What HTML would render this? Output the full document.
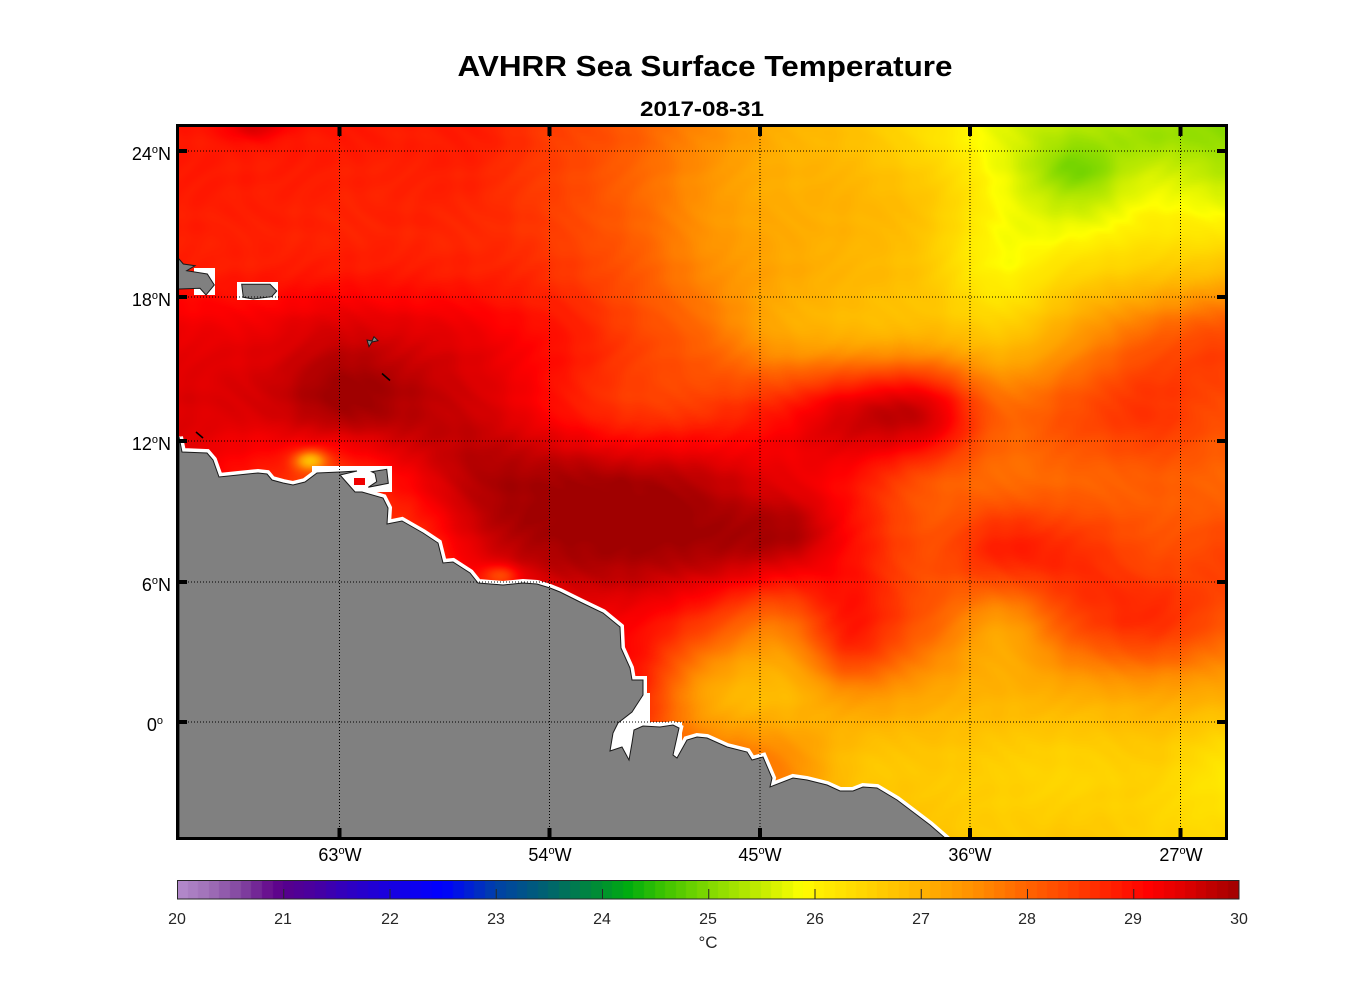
<!DOCTYPE html>
<html><head><meta charset="utf-8"><style>
html,body{margin:0;padding:0;background:#fff;}
body{width:1356px;height:1000px;position:relative;overflow:hidden;font-family:"Liberation Sans",Arial,sans-serif;}
#map{position:absolute;left:179px;top:127px;width:1046px;height:710px;background:linear-gradient(to right,#e00000,#ff2000 35%,#ff8000 55%,#ffb800 75%,#ffc800);}
#cb{position:absolute;left:178px;top:881px;width:1061px;height:18px;background:linear-gradient(to right,#b48cc8,#58008c 10%,#0000ff 25%,#009030 40%,#80d800 50%,#ffff00 59%,#ffb400 70%,#ff6400 80%,#ff0000 92%,#a00000);}
svg{position:absolute;left:0;top:0;}
</style></head><body>
<canvas id="map" width="1046" height="710"></canvas>
<canvas id="cb" width="1061" height="18"></canvas>
<svg width="1356" height="1000" viewBox="0 0 1356 1000" font-family="Liberation Sans, Arial, sans-serif">
<defs><clipPath id="c"><rect x="179" y="127" width="1046" height="710"/></clipPath></defs>
<g clip-path="url(#c)">
  <rect x="312" y="466" width="80" height="26" fill="#fff"/>
  <rect x="354" y="478" width="11" height="7" fill="#f00000"/>
  <rect x="194" y="268" width="21" height="27" fill="#fff"/>
  <rect x="237" y="282" width="41" height="18" fill="#fff"/>
  <polygon points="618,723 643,693 650,693 650,722 682,722 682,762 606,762" fill="#fff"/>
  <path d="M179,437 L182,452 L207,453 L213,460 L219,477 L258,473 L267,474 L272,480 L283,483 L293,485 L305,482 L317,473 L340,472 L357,471 L340,475 L355,492 L362,492 L383,498 L388,508 L387,524 L402,521 L423,533 L438,543 L443,563 L453,562 L470,573 L478,583 L503,585 L523,583 L537,584 L550,588 L560,592 L580,602 L603,613 L620,627 L621,648 L630,668 L632,680 L643,680 L643,695 L632,712 L618,723 L613,733 L610,751 L622,747 L629,760 L632,743 L634,730 L643,726 L660,727 L673,725 L679,728 L673,755 L677,758 L687,740 L697,737 L707,738 L727,747 L747,752 L752,760 L763,757 L772,778 L770,787 L793,778 L807,780 L827,785 L840,791 L853,791 L863,787 L877,788 L897,800 L930,825 L945,838 L179,838 Z" fill="none" stroke="#fff" stroke-width="8" stroke-linejoin="miter"/>
  <path d="M179,437 L182,452 L207,453 L213,460 L219,477 L258,473 L267,474 L272,480 L283,483 L293,485 L305,482 L317,473 L340,472 L357,471 L340,475 L355,492 L362,492 L383,498 L388,508 L387,524 L402,521 L423,533 L438,543 L443,563 L453,562 L470,573 L478,583 L503,585 L523,583 L537,584 L550,588 L560,592 L580,602 L603,613 L620,627 L621,648 L630,668 L632,680 L643,680 L643,695 L632,712 L618,723 L613,733 L610,751 L622,747 L629,760 L632,743 L634,730 L643,726 L660,727 L673,725 L679,728 L673,755 L677,758 L687,740 L697,737 L707,738 L727,747 L747,752 L752,760 L763,757 L772,778 L770,787 L793,778 L807,780 L827,785 L840,791 L853,791 L863,787 L877,788 L897,800 L930,825 L945,838 L179,838 Z" fill="#808080" stroke="#1a1a1a" stroke-width="1"/>
  <polygon points="371.7,471.7 386.7,469.3 388.3,483.3 368.3,487.3 376.7,481.7 375,473.3" fill="#808080" stroke="#1a1a1a" stroke-width="1"/>
  <polygon points="177,256.7 183.3,264 195,265.7 186.7,270.7 207.3,274 214.3,285 206,295 200,288.3 178.3,289 177,289" fill="#808080" stroke="#1a1a1a" stroke-width="1"/>
  <polygon points="241.7,284.3 270,284.3 276.7,291 271.7,296.7 253.3,299 243.3,297.3" fill="#808080" stroke="#1a1a1a" stroke-width="1"/>
  <polygon points="367,340 372,341 374,336.7 378,340.7 372,342 369,346.7" fill="#808080" stroke="#1a1a1a" stroke-width="1"/>
  <line x1="382" y1="373.5" x2="390" y2="380.5" stroke="#000" stroke-width="1.6"/>
  <line x1="196" y1="432" x2="203" y2="438" stroke="#000" stroke-width="1.6"/>
  <g stroke="#000" stroke-width="1" stroke-dasharray="1,2" fill="none">
    <line x1="339.5" y1="127" x2="339.5" y2="837"/>
    <line x1="549.5" y1="127" x2="549.5" y2="837"/>
    <line x1="760" y1="127" x2="760" y2="837"/>
    <line x1="970" y1="127" x2="970" y2="837"/>
    <line x1="1180.5" y1="127" x2="1180.5" y2="837"/>
    <line x1="179" y1="151" x2="1225" y2="151"/>
    <line x1="179" y1="297" x2="1225" y2="297"/>
    <line x1="179" y1="441" x2="1225" y2="441"/>
    <line x1="179" y1="582" x2="1225" y2="582"/>
    <line x1="179" y1="722" x2="1225" y2="722"/>
  </g>
</g>
<rect x="177.5" y="125.5" width="1049" height="713" fill="none" stroke="#000" stroke-width="3"/>
<g fill="#000">
  <rect x="337.5" y="127" width="4" height="9"/><rect x="547.5" y="127" width="4" height="9"/><rect x="758" y="127" width="4" height="9"/><rect x="968" y="127" width="4" height="9"/><rect x="1178.5" y="127" width="4" height="9"/>
  <rect x="337.5" y="828" width="4" height="9"/><rect x="547.5" y="828" width="4" height="9"/><rect x="758" y="828" width="4" height="9"/><rect x="968" y="828" width="4" height="9"/><rect x="1178.5" y="828" width="4" height="9"/>
  <rect x="179" y="149" width="8" height="4"/><rect x="179" y="295" width="8" height="4"/><rect x="179" y="439" width="8" height="4"/><rect x="179" y="580" width="8" height="4"/><rect x="179" y="720" width="8" height="4"/>
  <rect x="1217" y="149" width="8" height="4"/><rect x="1217" y="295" width="8" height="4"/><rect x="1217" y="439" width="8" height="4"/><rect x="1217" y="580" width="8" height="4"/><rect x="1217" y="720" width="8" height="4"/>
</g>
<text x="705" y="76" font-size="29" font-weight="bold" text-anchor="middle" textLength="495" lengthAdjust="spacingAndGlyphs" fill="#000">AVHRR Sea Surface Temperature</text>
<text x="702" y="116" font-size="21" font-weight="bold" text-anchor="middle" textLength="124" lengthAdjust="spacingAndGlyphs" fill="#000">2017-08-31</text>
<g font-size="18" fill="#000" text-anchor="end">
  <text x="171" y="160">24<tspan font-size="11" dy="-7">o</tspan><tspan dy="7">N</tspan></text>
  <text x="171" y="306">18<tspan font-size="11" dy="-7">o</tspan><tspan dy="7">N</tspan></text>
  <text x="171" y="450">12<tspan font-size="11" dy="-7">o</tspan><tspan dy="7">N</tspan></text>
  <text x="171" y="591">6<tspan font-size="11" dy="-7">o</tspan><tspan dy="7">N</tspan></text>
  <text x="163" y="731">0<tspan font-size="11" dy="-7">o</tspan></text>
</g>
<g font-size="18" fill="#000" text-anchor="middle">
  <text x="340" y="861">63<tspan font-size="11" dy="-7">o</tspan><tspan dy="7">W</tspan></text>
  <text x="550" y="861">54<tspan font-size="11" dy="-7">o</tspan><tspan dy="7">W</tspan></text>
  <text x="760" y="861">45<tspan font-size="11" dy="-7">o</tspan><tspan dy="7">W</tspan></text>
  <text x="970" y="861">36<tspan font-size="11" dy="-7">o</tspan><tspan dy="7">W</tspan></text>
  <text x="1181" y="861">27<tspan font-size="11" dy="-7">o</tspan><tspan dy="7">W</tspan></text>
</g>
<rect x="177.5" y="880.5" width="1061.5" height="18.5" fill="none" stroke="#262626" stroke-width="1"/>
<g stroke="#262626" stroke-width="1">
  <line x1="283.75" y1="889" x2="283.75" y2="899"/><line x1="390" y1="889" x2="390" y2="899"/><line x1="496.25" y1="889" x2="496.25" y2="899"/><line x1="602.5" y1="889" x2="602.5" y2="899"/><line x1="708.75" y1="889" x2="708.75" y2="899"/><line x1="815" y1="889" x2="815" y2="899"/><line x1="921.25" y1="889" x2="921.25" y2="899"/><line x1="1027.5" y1="889" x2="1027.5" y2="899"/><line x1="1133.75" y1="889" x2="1133.75" y2="899"/>
</g>
<g font-size="16" fill="#262626" text-anchor="middle">
  <text x="177" y="924">20</text><text x="283" y="924">21</text><text x="390" y="924">22</text><text x="496" y="924">23</text><text x="602" y="924">24</text><text x="708" y="924">25</text><text x="815" y="924">26</text><text x="921" y="924">27</text><text x="1027" y="924">28</text><text x="1133" y="924">29</text><text x="1239" y="924">30</text>
  <text x="708" y="948" font-size="17">°C</text>
</g>
</svg>
<script>
(function(){
var stops=[[20,180,140,204],[20.3,160,112,184],[20.6,130,70,160],[20.9,100,8,140],[21,88,0,140],[21.3,72,0,160],[21.6,48,0,192],[22,24,0,224],[22.5,0,0,255],[23,0,64,168],[23.5,0,100,110],[24,0,144,48],[24.25,0,172,16],[24.6,64,196,0],[25,128,216,0],[25.5,196,236,0],[25.9,255,255,0],[26,255,242,0],[26.5,255,212,0],[27,255,180,0],[27.5,255,144,0],[28,255,100,0],[28.5,255,60,0],[29.15,255,0,0],[29.5,222,0,0],[30,160,0,0]];
function col(t){
  if(t<=stops[0][0])return stops[0].slice(1);
  for(var k=1;k<stops.length;k++){if(t<=stops[k][0]){var a=stops[k-1],b=stops[k],f=(t-a[0])/(b[0]-a[0]);return [a[1]+(b[1]-a[1])*f,a[2]+(b[2]-a[2])*f,a[3]+(b[3]-a[3])*f];}}
  return stops[stops.length-1].slice(1);
}
var LUT=[];for(var q=0;q<=1000;q++){LUT.push(col(20+q/100));}
function lut(t){var q=Math.round((t-20)*100);if(q<0)q=0;if(q>1000)q=1000;return LUT[q];}
var cb=document.getElementById('cb').getContext('2d');
for(var s=0;s<100;s++){var c=col(20+(s+0.5)/10);cb.fillStyle='rgb('+Math.round(c[0])+','+Math.round(c[1])+','+Math.round(c[2])+')';var x0=Math.round(s*10.6125)-1,x1=Math.round((s+1)*10.6125)-1;cb.fillRect(x0,0,x1-x0+1,18);}
var G=[
[28.9,28.9,28.9,28.85,28.85,28.5,28.15,27.6,27.1,26.8,26.3,25.7,25.4,25.35,25.05],
[28.85,28.85,28.8,28.8,28.75,28.45,28.05,27.45,27.1,27.0,26.7,25.9,25.5,25.85,25.7],
[28.9,28.85,28.9,28.85,28.8,28.6,28.2,27.6,27.2,27.0,26.7,25.95,26.4,26.6,26.8],
[29.35,29.4,29.6,29.55,29.35,29.0,28.5,28.0,27.3,27.1,27.1,26.8,27.4,28.1,28.4],
[29.5,29.5,29.8,29.8,29.6,29.1,28.6,28.6,28.9,29.55,29.6,28.0,28.3,28.6,28.3],
[29.3,28.9,28.5,29.1,29.85,29.95,29.95,29.75,29.4,29.0,28.2,27.95,28.0,28.1,28.0],
[29.0,29.0,29.0,28.5,29.4,29.9,29.95,29.9,29.65,29.0,28.3,28.8,28.7,28.3,28.4],
[28.5,28.5,28.5,28.5,28.5,29.0,29.2,28.5,27.8,28.8,28.1,27.3,28.3,28.7,28.2],
[28.5,28.5,28.5,28.5,28.5,28.8,29.0,27.3,26.9,27.4,27.2,27.0,27.1,27.2,27.1],
[28.5,28.5,28.5,28.5,28.5,28.5,28.5,28.0,27.7,26.8,26.7,26.6,26.5,26.6,26.2],
[28.5,28.5,28.5,28.5,28.5,28.5,28.5,28.0,27.5,27.0,26.8,26.6,26.7,26.5,26.4]];
var NX=15,NY=11,W=1046,H=710,X0=179,Y0=127;
var bumps=[[1075,168,-0.5,40,25],[1140,142,-0.2,40,18],[310,460,-2.0,16,10],[850,655,0.35,35,30],[345,390,0.15,50,40],[800,527,0.3,40,30],[500,575,-0.9,18,10],[255,127,0.6,30,12]];
function cr(p0,p1,p2,p3,t){return 0.5*((2*p1)+(-p0+p2)*t+(2*p0-5*p1+4*p2-p3)*t*t+(-p0+3*p1-3*p2+p3)*t*t*t);}
function g(i,j){if(i<0)i=0;if(i>NX-1)i=NX-1;if(j<0)j=0;if(j>NY-1)j=NY-1;return G[j][i];}
var ctx=document.getElementById('map').getContext('2d');
var img=ctx.createImageData(W,H),d=img.data;
for(var y=0;y<H;y++){
  var fy=y/(H-1)*(NY-1),j=Math.floor(fy);if(j>NY-2)j=NY-2;var ty=fy-j;
  var row=[];for(var i=0;i<NX;i++){row.push(cr(g(i,j-1),g(i,j),g(i,j+1),g(i,j+2),ty));}
  var rg=function(i){if(i<0)i=0;if(i>NX-1)i=NX-1;return row[i];};
  for(var x=0;x<W;x++){
    var fx=x/(W-1)*(NX-1),i0=Math.floor(fx);if(i0>NX-2)i0=NX-2;var tx=fx-i0;
    var t=cr(rg(i0-1),rg(i0),rg(i0+1),rg(i0+2),tx);
    var px=x+X0,py=y+Y0;
    for(var b=0;b<bumps.length;b++){var B=bumps[b];var dx=(px-B[0])/B[3],dy=(py-B[1])/B[4];var e=dx*dx+dy*dy;if(e<9)t+=B[2]*Math.exp(-e);}
    t+=0.05*Math.sin(px/9.3+Math.sin(py/14.1)*2)*Math.sin(py/8.7+Math.cos(px/17.3)*2);
    var c=lut(t),o=(y*W+x)*4;
    d[o]=c[0];d[o+1]=c[1];d[o+2]=c[2];d[o+3]=255;
  }
}
ctx.putImageData(img,0,0);
})();
</script>
</body></html>
